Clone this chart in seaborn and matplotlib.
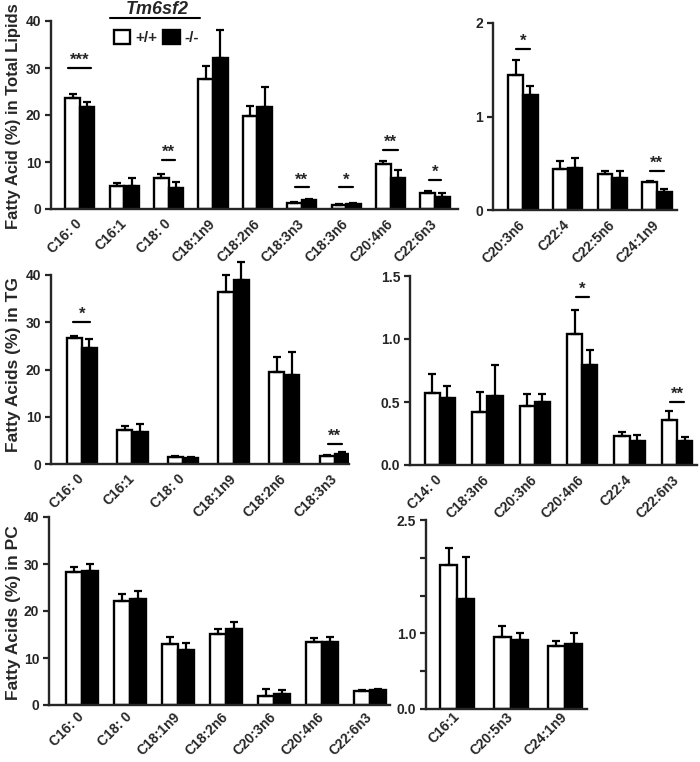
import numpy as np
import pandas as pd
import matplotlib
matplotlib.use("Agg")
import matplotlib.pyplot as plt
from matplotlib.patches import Patch
from matplotlib.lines import Line2D
from matplotlib.transforms import ScaledTranslation
import seaborn as sns

# ---------------- data ----------------
tl_cats = ["C16: 0", "C16:1", "C18: 0", "C18:1n9", "C18:2n6", "C18:3n3", "C18:3n6", "C20:4n6", "C22:6n3"]
tl_wt = [23.7, 5.0, 6.7, 27.7, 19.8, 1.35, 0.85, 9.6, 3.5]
tl_wt_err = [0.7, 0.45, 0.7, 2.7, 2.15, 0.2, 0.2, 0.7, 0.3]
tl_ko = [21.8, 5.0, 4.5, 32.1, 21.7, 1.9, 1.1, 6.7, 2.5]
tl_ko_err = [0.9, 1.65, 1.2, 6.0, 4.2, 0.15, 0.2, 1.7, 0.9]
tl_sig = [("C16: 0", "***", 30.0, 0.26), ("C18: 0", "**", 10.5, 0.14), ("C18:3n3", "**", 4.6, 0.16),
          ("C18:3n6", "*", 4.6, 0.16), ("C20:4n6", "**", 12.5, 0.16), ("C22:6n3", "*", 6.2, 0.14)]

tr_cats = ["C20:3n6", "C22:4", "C22:5n6", "C24:1n9"]
tr_wt = [1.44, 0.44, 0.38, 0.295]
tr_wt_err = [0.16, 0.08, 0.035, 0.02]
tr_ko = [1.23, 0.45, 0.34, 0.19]
tr_ko_err = [0.10, 0.11, 0.08, 0.035]
tr_sig = [("C20:3n6", "*", 1.72, 0.15), ("C24:1n9", "**", 0.42, 0.16)]

ml_cats = ["C16: 0", "C16:1", "C18: 0", "C18:1n9", "C18:2n6", "C18:3n3"]
ml_wt = [26.6, 7.2, 1.4, 36.5, 19.5, 1.75]
ml_wt_err = [0.5, 0.9, 0.3, 3.4, 3.2, 0.2]
ml_ko = [24.6, 6.7, 1.27, 39.0, 18.9, 2.2]
ml_ko_err = [1.8, 1.75, 0.25, 3.7, 4.8, 0.3]
ml_sig = [("C16: 0", "*", 30.1, 0.17), ("C18:3n3", "**", 4.3, 0.14)]

mr_cats = ["C14: 0", "C18:3n6", "C20:3n6", "C20:4n6", "C22:4", "C22:6n3"]
mr_wt = [0.57, 0.42, 0.47, 1.04, 0.23, 0.355]
mr_wt_err = [0.15, 0.16, 0.09, 0.19, 0.035, 0.07]
mr_ko = [0.53, 0.55, 0.50, 0.79, 0.19, 0.19]
mr_ko_err = [0.10, 0.24, 0.06, 0.12, 0.045, 0.03]
mr_sig = [("C20:4n6", "*", 1.334, 0.14), ("C22:6n3", "**", 0.5, 0.14)]

bl_cats = ["C16: 0", "C18: 0", "C18:1n9", "C18:2n6", "C20:3n6", "C20:4n6", "C22:6n3"]
bl_wt = [28.3, 22.1, 12.9, 15.1, 2.0, 13.5, 3.05]
bl_wt_err = [1.1, 1.6, 1.6, 1.0, 1.4, 0.7, 0.2]
bl_ko = [28.5, 22.6, 11.6, 16.2, 2.3, 13.5, 3.1]
bl_ko_err = [1.4, 1.7, 1.6, 1.5, 0.8, 1.0, 0.2]

br_cats = ["C16:1", "C20:5n3", "C24:1n9"]
br_wt = [1.9, 0.95, 0.83]
br_wt_err = [0.23, 0.15, 0.07]
br_ko = [1.45, 0.91, 0.86]
br_ko_err = [0.56, 0.09, 0.14]

genotypes = ["+/+", "-/-"]
colors = {"+/+": "white", "-/-": "black"}

# ---------------- style ----------------
sns.set_style("ticks")
plt.rcParams["font.family"] = ["Liberation Sans", "DejaVu Sans"]
plt.rcParams["font.weight"] = "bold"

W, H = 700, 762
fig = plt.figure(figsize=(7.0, 7.62), dpi=100)


def px_axes(x0, x1, y0, y1):
    # y0 = top pixel, y1 = bottom pixel
    return fig.add_axes([x0 / W, 1 - y1 / H, (x1 - x0) / W, (y1 - y0) / H])


def panel(ax, cats, wt, wt_err, ko, ko_err, ylim, yticks, yticklabels, xlim, width,
          sig=(), xpad=9):
    df = pd.DataFrame({
        "cat": cats * 2,
        "genotype": ["+/+"] * len(cats) + ["-/-"] * len(cats),
        "value": wt + ko,
    })
    sns.barplot(data=df, x="cat", y="value", hue="genotype", hue_order=genotypes,
                palette=colors, edgecolor="black", linewidth=1.7, width=width,
                errorbar=None, legend=False, ax=ax)
    for cont, err in zip(ax.containers, [wt_err, ko_err]):
        for bar, e in zip(cont, err):
            x = bar.get_x() + bar.get_width() / 2
            y = bar.get_height()
            ax.errorbar(x, y, yerr=[[0], [e]], fmt="none", ecolor="black",
                        elinewidth=1.6, capsize=3, capthick=1.6, clip_on=False, zorder=1)
    for cat, stars, yv, hw in sig:
        i = cats.index(cat)
        ax.plot([i - hw, i + hw], [yv, yv], color="black", lw=1.6, clip_on=False)
        ax.text(i, yv, stars, ha="center", va="bottom", fontsize=12, fontweight="bold")
    ax.set_ylim(*ylim)
    ax.set_xlim(*xlim)
    ax.set_yticks(yticks)
    ax.set_yticklabels(yticklabels, fontsize=10, fontweight="bold")
    ax.set_xticks(range(len(cats)))
    ax.set_xticklabels(cats, rotation=45, ha="right", va="center", rotation_mode="anchor",
                       fontsize=10, fontweight="bold")
    shift = ScaledTranslation(4 / 100, -1 / 100, fig.dpi_scale_trans)
    for lab in ax.get_xticklabels():
        lab.set_transform(lab.get_transform() + shift)
    ax.tick_params(axis="x", length=0, pad=xpad)
    ax.tick_params(axis="y", length=4, width=1.6, pad=3, direction="out")
    ax.set_xlabel("")
    ax.set_ylabel("")
    for s in ["left", "bottom"]:
        ax.spines[s].set_linewidth(1.7)
    sns.despine(ax=ax)
    ax.set_facecolor("none")


ax_tl = px_axes(51, 458, 21, 209)
panel(ax_tl, tl_cats, tl_wt, tl_wt_err, tl_ko, tl_ko_err, (0, 40), [0, 10, 20, 30, 40],
      ["0", "10", "20", "30", "40"], (-0.65, 8.52), 0.66, tl_sig)

ax_tr = px_axes(493, 677, 23, 210)
panel(ax_tr, tr_cats, tr_wt, tr_wt_err, tr_ko, tr_ko_err, (0, 2), [0, 1, 2],
      ["0", "1", "2"], (-0.67, 3.45), 0.66, tr_sig)

ax_ml = px_axes(51, 349, 275, 464)
panel(ax_ml, ml_cats, ml_wt, ml_wt_err, ml_ko, ml_ko_err, (0, 40), [0, 10, 20, 30, 40],
      ["0", "10", "20", "30", "40"], (-0.61, 5.28), 0.6, ml_sig)

ax_mr = px_axes(410, 697, 276, 465)
panel(ax_mr, mr_cats, mr_wt, mr_wt_err, mr_ko, mr_ko_err, (0, 1.5), [0, 0.5, 1.0, 1.5],
      ["0.0", "0.5", "1.0", "1.5"], (-0.63, 5.42), 0.64, mr_sig)

ax_bl = px_axes(49, 390, 517, 705)
panel(ax_bl, bl_cats, bl_wt, bl_wt_err, bl_ko, bl_ko_err, (0, 40), [0, 10, 20, 30, 40],
      ["0", "10", "20", "30", "40"], (-0.69, 6.42), 0.66, xpad=7)

ax_br = px_axes(426, 587, 520, 709)
panel(ax_br, br_cats, br_wt, br_wt_err, br_ko, br_ko_err, (0, 2.5), [0, 0.5, 1.0, 1.5, 2.0, 2.5],
      ["0.0", "", "1.0", "", "", "2.5"], (-0.58, 2.41), 0.64, xpad=4)

# y labels
fig.text(14 / W, 1 - 116 / H, "Fatty Acid (%) in Total Lipids", rotation=90,
         ha="center", va="center", fontsize=12, fontweight="bold")
fig.text(14 / W, 1 - 364 / H, "Fatty Acids (%) in TG", rotation=90,
         ha="center", va="center", fontsize=12.5, fontweight="bold")
fig.text(14 / W, 1 - 613 / H, "Fatty Acids (%) in PC", rotation=90,
         ha="center", va="center", fontsize=12.5, fontweight="bold")

# legend
handles = [Patch(facecolor=colors[g], edgecolor="black", linewidth=1.7) for g in genotypes]
leg = fig.legend(handles, genotypes, ncol=2, loc="upper left",
                 bbox_to_anchor=(106 / W, 1 - 22 / H), frameon=False,
                 handlelength=1.1, handleheight=1.1, handletextpad=0.3,
                 columnspacing=0.4, borderpad=0, prop={"size": 11, "weight": "bold"})
fig.text(157 / W, 1 - 9 / H, "Tm6sf2", ha="center", va="center", fontsize=13,
         fontweight="bold", fontstyle="italic")
fig.add_artist(Line2D([110 / W, 200 / W], [1 - 18 / H, 1 - 18 / H], color="black", lw=1.5))

fig.savefig("out.png", dpi=100)
